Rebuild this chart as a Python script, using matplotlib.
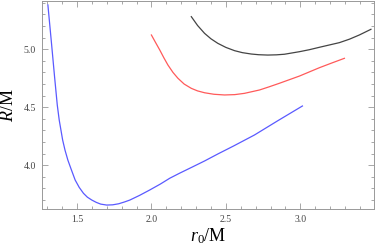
import matplotlib
matplotlib.use("Agg")
import matplotlib.pyplot as plt
from matplotlib.ticker import MultipleLocator

plt.rcParams["font.family"] = "Liberation Serif"
plt.rcParams["mathtext.fontset"] = "custom"
plt.rcParams["mathtext.rm"] = "Liberation Serif"
plt.rcParams["mathtext.it"] = "Liberation Serif:italic"

# values
blue_x = [1.305, 1.330, 1.350, 1.368, 1.381, 1.404, 1.420, 1.439, 1.460,
          1.488, 1.515, 1.544, 1.570, 1.600, 1.630, 1.660, 1.700, 1.740,
          1.780, 1.820, 1.855, 1.920, 1.989, 2.060, 2.123, 2.190, 2.270,
          2.357, 2.450, 2.550, 2.692, 2.850, 3.014]
blue_y = [5.382, 5.040, 4.760, 4.519, 4.390, 4.218, 4.130, 4.045, 3.970,
          3.873, 3.810, 3.758, 3.725, 3.700, 3.680, 3.665, 3.657, 3.659,
          3.668, 3.684, 3.700, 3.740, 3.787, 3.838, 3.888, 3.932, 3.982,
          4.037, 4.100, 4.165, 4.261, 4.385, 4.511]

red_x = [2.000, 2.028, 2.056, 2.083, 2.111, 2.145, 2.178, 2.220, 2.268,
         2.310, 2.357, 2.420, 2.491, 2.560, 2.625, 2.726, 2.790, 2.860,
         2.994, 3.128, 3.210, 3.296]
red_y = [5.123, 5.058, 4.994, 4.928, 4.864, 4.800, 4.750, 4.700, 4.663,
         4.641, 4.625, 4.612, 4.606, 4.609, 4.620, 4.649, 4.676, 4.707,
         4.769, 4.841, 4.881, 4.922]

black_x = [2.268, 2.310, 2.357, 2.400, 2.446, 2.500, 2.558, 2.610, 2.670,
           2.720, 2.781, 2.840, 2.893, 2.994, 3.060, 3.128, 3.262, 3.330,
           3.396, 3.474]
black_y = [5.281, 5.205, 5.137, 5.090, 5.051, 5.016, 4.988, 4.971, 4.959,
           4.953, 4.950, 4.952, 4.957, 4.979, 4.996, 5.017, 5.057, 5.087,
           5.123, 5.172]

fig = plt.figure(figsize=(3.82, 2.5), dpi=100)
ax = fig.add_axes([0.109, 0.164, 0.871, 0.832])

ax.plot(blue_x, blue_y, color="#5a5aff", lw=0.9)
ax.plot(red_x, red_y, color="#ff5a5a", lw=0.9)
ax.plot(black_x, black_y, color="#444444", lw=0.9)

ax.set_xlim(1.263, 3.497)
ax.set_ylim(3.623, 5.416)
ax.xaxis.set_major_locator(MultipleLocator(0.5))
ax.xaxis.set_minor_locator(MultipleLocator(0.1))
ax.yaxis.set_major_locator(MultipleLocator(0.5))
ax.yaxis.set_minor_locator(MultipleLocator(0.1))

for s in ax.spines.values():
    s.set_color("#999999")
    s.set_linewidth(0.7)
ax.tick_params(which="both", direction="in", top=True, right=True,
               color="#999999", width=0.6, labelsize=7, labelcolor="#444444")
ax.tick_params(which="major", length=4, pad=4)
ax.tick_params(which="minor", length=2)

ax.set_xlabel(r"$r_0/\mathrm{M}$", fontsize=13, labelpad=2)
ax.set_ylabel(r"$R/\mathrm{M}$", fontsize=13, labelpad=5)

fig.savefig("out.png", dpi=100)
